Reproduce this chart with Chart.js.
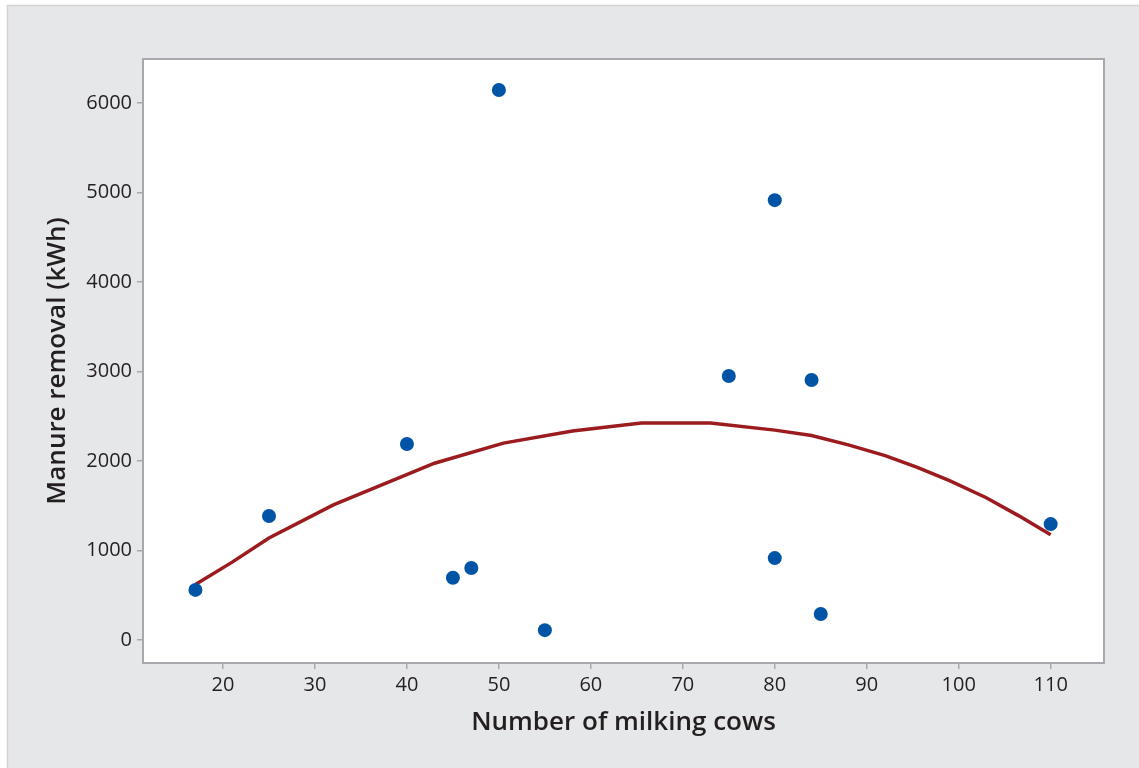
<!DOCTYPE html>
<html>
<head>
<meta charset="utf-8">
<script src="https://cdn.jsdelivr.net/npm/chart.js@4/dist/chart.umd.min.js"></script>
<style>
  html, body { margin: 0; padding: 0; background: #ffffff; }
  #wrap { width: 1139px; height: 768px; }
</style>
</head>
<body>
<div id="wrap"><canvas id="cowsChart" width="1139" height="768"></canvas></div>
<script>
// observed farms: herd size vs manure removal energy
const cows = [17, 25, 40, 45, 47, 50, 55, 75, 80, 80, 84, 85, 110];
const manureKWh = [560, 1385, 2190, 695, 805, 6145, 110, 2950, 4915, 915, 2905, 290, 1295];

// fitted curve
const fitCows = [17, 21, 25, 32, 43, 50.5, 58, 65.5, 73, 80, 84, 88, 92, 95.5, 99, 103, 106.5, 110];
const fitKWh = [620, 870, 1140, 1510, 1975, 2200, 2335, 2425, 2425, 2345, 2285, 2180, 2060, 1930, 1780, 1590, 1390, 1175];

const xTicks = [20, 30, 40, 50, 60, 70, 80, 90, 100, 110];
const yTicks = [0, 1000, 2000, 3000, 4000, 5000, 6000];

const frameColor = '#a7a9ac';
const textColor = '#231f20';

// grey page, white plot box, frame round the plot
const panelPlugin = {
  id: 'panel',
  beforeDraw(chart) {
    const { ctx, chartArea: a, width, height } = chart;
    ctx.save();
    ctx.fillStyle = '#ffffff';
    ctx.fillRect(0, 0, width, height);
    ctx.fillStyle = '#e6e7e9';
    ctx.fillRect(7, 5, width - 7, height - 5);
    ctx.strokeStyle = '#d2d3d5';
    ctx.lineWidth = 1.5;
    ctx.strokeRect(7.5, 5.5, width, height);
    ctx.fillStyle = '#ffffff';
    ctx.fillRect(a.left, a.top, a.right - a.left, a.bottom - a.top);
    ctx.restore();
  },
  afterDatasetsDraw(chart) {
    const { ctx, chartArea: a } = chart;
    ctx.save();
    ctx.strokeStyle = frameColor;
    ctx.lineWidth = 2;
    ctx.strokeRect(a.left, a.top, a.right - a.left, a.bottom - a.top);
    ctx.restore();
  }
};

const tickFont = { family: 'Open Sans', size: 20 };
const titleFont = { family: 'Open Sans', size: 26, weight: '600' };

const ctx = document.getElementById('cowsChart').getContext('2d');
new Chart(ctx, {
  type: 'scatter',
  data: {
    datasets: [
      {
        label: 'Observed',
        data: cows.map((c, i) => ({ x: c, y: manureKWh[i] })),
        backgroundColor: '#0054a6',
        borderColor: '#0054a6',
        pointRadius: 7,
        pointBorderWidth: 0,
        order: 0
      },
      {
        label: 'Fit',
        data: fitCows.map((c, i) => ({ x: c, y: fitKWh[i] })),
        showLine: true,
        borderColor: '#9b1b1f',
        borderWidth: 3.5,
        pointRadius: 0,
        tension: 0,
        order: 1
      }
    ]
  },
  options: {
    responsive: false,
    animation: false,
    layout: { padding: { left: 0, top: 59, right: 35, bottom: 0 } },
    plugins: {
      legend: { display: false },
      tooltip: { enabled: false }
    },
    scales: {
      x: {
        type: 'linear',
        min: 11.3,
        max: 115.8,
        afterFit: (s) => { s.height = 105; },
        afterBuildTicks: (s) => { s.ticks = xTicks.map(v => ({ value: v })); },
        grid: { drawOnChartArea: false, drawTicks: true, tickLength: 6, color: frameColor, lineWidth: 1.5 },
        border: { display: false },
        ticks: { color: textColor, padding: 4, font: tickFont, callback: (v) => String(v) },
        title: {
          display: true,
          text: 'Number of milking cows',
          color: textColor,
          font: titleFont,
          padding: { top: 0, bottom: 30 }
        }
      },
      y: {
        type: 'linear',
        min: -257,
        max: 6492,
        afterFit: (s) => { s.width = 143; },
        afterBuildTicks: (s) => { s.ticks = yTicks.map(v => ({ value: v })); },
        grid: { drawOnChartArea: false, drawTicks: true, tickLength: 6, color: frameColor, lineWidth: 1.5 },
        border: { display: false },
        ticks: { color: textColor, padding: 5, font: tickFont, callback: (v) => String(v) },
        title: {
          display: true,
          text: 'Manure removal (kWh)',
          color: textColor,
          font: titleFont,
          padding: { top: 42, bottom: 0 }
        }
      }
    }
  },
  plugins: [panelPlugin]
});
</script>
</body>
</html>
